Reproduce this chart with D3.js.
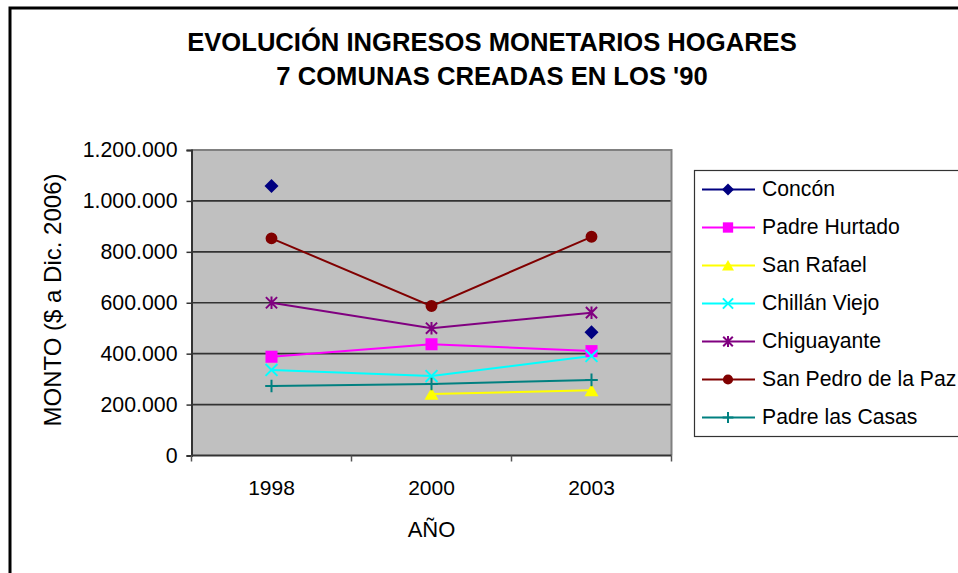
<!DOCTYPE html>
<html><head><meta charset="utf-8">
<script src="https://cdn.jsdelivr.net/npm/d3@7"></script>
<style>body{margin:0;background:#fff}svg{display:block}text{font-family:"Liberation Sans",Arial,sans-serif;fill:#000}</style>
</head><body><svg id="c" width="958" height="573"></svg>
<script>
const years = ["1998","2000","2003"];
const seriesNames = ["Concón","Padre Hurtado","San Rafael","Chillán Viejo","Chiguayante","San Pedro de la Paz","Padre las Casas"];
const concon = [1059000, null, 484000];
const padreHurtado = [388000, 437000, 410000];
const sanRafael = [null, 242000, 256000];
const chillanViejo = [336000, 312000, 391000];
const chiguayante = [600000, 500000, 561000];
const sanPedro = [853000, 587000, 859000];
const padreLasCasas = [273000, 281000, 297000];
const yTicks = [0,200000,400000,600000,800000,1000000,1200000];
const titleLines = ["EVOLUCIÓN INGRESOS MONETARIOS HOGARES","7 COMUNAS CREADAS EN LOS '90"];

const colors = ["#000080","#FF00FF","#FFFF00","#00FFFF","#800080","#800000","#008080"];
const markers = ["diamond","square","triangle","x","asterisk","circle","plus"];
const values = [concon,padreHurtado,sanRafael,chillanViejo,chiguayante,sanPedro,padreLasCasas];

const svg = d3.select("#c");
const L=191.5,R=671.5,T=150,B=455.5;
const x = d3.scaleBand().domain(years).range([L,R]).padding(0);
const y = d3.scaleLinear().domain([0,1200000]).range([B,T]);
const loc = d3.formatLocale({decimal:",",thousands:".",grouping:[3],currency:["$",""]});
const fmt = loc.format(",d");

// outer border
svg.append("rect").attr("x",10).attr("y",8).attr("width",1000).attr("height",600)
  .attr("fill","none").attr("stroke","#000").attr("stroke-width",3);

// title
svg.selectAll("text.title").data(titleLines).enter().append("text")
  .attr("x",492).attr("y",(d,i)=>51+i*34).attr("text-anchor","middle")
  .style("font-size","25.6px").style("font-weight","bold").text(d=>d);

// plot bg
svg.append("rect").attr("x",L).attr("y",T).attr("width",R-L).attr("height",B-T).attr("fill","#C0C0C0");
// grid
svg.selectAll("line.grid").data(yTicks.filter(d=>d>0)).enter().append("line")
  .attr("x1",L).attr("x2",R).attr("y1",d=>y(d)).attr("y2",d=>y(d))
  .attr("stroke","#333").attr("stroke-width",1.6);
// border top/right
svg.append("path").attr("d",`M${L},${T}H${R}V${B}`).attr("fill","none").attr("stroke","#808080").attr("stroke-width",2);

// y axis
const yAxis = d3.axisLeft(y).tickValues(yTicks).tickFormat(fmt).tickSize(5).tickPadding(9);
const gy = svg.append("g").attr("transform",`translate(${L},0)`).call(yAxis);
gy.select(".domain").attr("stroke","#333").attr("stroke-width",2);
gy.selectAll(".tick line").attr("stroke","#333").attr("stroke-width",1.5);
gy.selectAll(".tick text").style("font-size","21.3px").style("font-family","'Liberation Sans',Arial,sans-serif").attr("fill","#000");

// x axis
const gx = svg.append("g").attr("transform",`translate(0,${B})`);
gx.append("line").attr("x1",L).attr("x2",R).attr("stroke","#333").attr("stroke-width",2);
const bounds = years.map(d=>x(d)).concat([R]);
gx.selectAll("line.tk").data(bounds).enter().append("line").attr("x1",d=>d).attr("x2",d=>d).attr("y1",0).attr("y2",6).attr("stroke","#555").attr("stroke-width",1.5);
gx.selectAll("text").data(years).enter().append("text")
  .attr("x",d=>x(d)+x.bandwidth()/2).attr("y",39).attr("text-anchor","middle")
  .style("font-size","21px").text(d=>d);

// axis titles
svg.append("text").attr("x",(L+R)/2).attr("y",537).attr("text-anchor","middle").style("font-size","22px").text("AÑO");
svg.append("text").attr("transform","translate(61,300) rotate(-90)").attr("text-anchor","middle").style("font-size","24px").text("MONTO ($ a Dic. 2006)");

function markerPath(type,r){
  switch(type){
    case "diamond": return `M0,${-r}L${r},0L0,${r}L${-r},0Z`;
    case "square": return `M${-r*0.86},${-r*0.86}H${r*0.86}V${r*0.86}H${-r*0.86}Z`;
    case "triangle": return `M0,${-r*0.9}L${r},${r*0.85}L${-r},${r*0.85}Z`;
    case "circle": return d3.symbol(d3.symbolCircle, Math.PI*r*r*0.72)();
    case "x": return `M${-r*0.85},${-r*0.85}L${r*0.85},${r*0.85}M${-r*0.85},${r*0.85}L${r*0.85},${-r*0.85}`;
    case "asterisk": return `M${-r*0.8},${-r*0.8}L${r*0.8},${r*0.8}M${-r*0.8},${r*0.8}L${r*0.8},${-r*0.8}M0,${-r*0.9}V${r*0.9}`;
    case "plus": return `M0,${-r*0.9}V${r*0.9}M${-r*0.9},0H${r*0.9}`;
  }
}
const filled = t => ["diamond","square","triangle","circle"].includes(t);

const cx = d => x(d)+x.bandwidth()/2;
const line = d3.line().defined(d=>d.v!=null).x(d=>cx(d.year)).y(d=>y(d.v));
seriesNames.forEach((name,i)=>{
  const data = years.map((yr,j)=>({year:yr,v:values[i][j]}));
  svg.append("path").datum(data).attr("d",line).attr("fill","none").attr("stroke",colors[i]).attr("stroke-width",2);
});
seriesNames.forEach((name,i)=>{
  const data = years.map((yr,j)=>({year:yr,v:values[i][j]})).filter(d=>d.v!=null);
  const f = filled(markers[i]);
  svg.selectAll(null).data(data).enter().append("path")
    .attr("transform",d=>`translate(${cx(d.year)},${y(d.v)})`)
    .attr("d",markerPath(markers[i],7))
    .attr("fill",f?colors[i]:"none").attr("stroke",colors[i]).attr("stroke-width",f?0:2);
});

// legend
const lg = svg.append("g");
lg.append("rect").attr("x",694.5).attr("y",170.5).attr("width",300).attr("height",266).attr("fill","#fff").attr("stroke","#333").attr("stroke-width",1.2);
seriesNames.forEach((name,i)=>{
  const ly = 189.5+i*38;
  lg.append("line").attr("x1",702).attr("x2",755).attr("y1",ly).attr("y2",ly).attr("stroke",colors[i]).attr("stroke-width",2);
  const f = filled(markers[i]);
  lg.append("path").attr("transform",`translate(728,${ly})`).attr("d",markerPath(markers[i],6))
    .attr("fill",f?colors[i]:"none").attr("stroke",colors[i]).attr("stroke-width",f?0:2);
  lg.append("text").attr("x",762).attr("y",ly+6).style("font-size","21.2px").text(name);
});
</script></body></html>
